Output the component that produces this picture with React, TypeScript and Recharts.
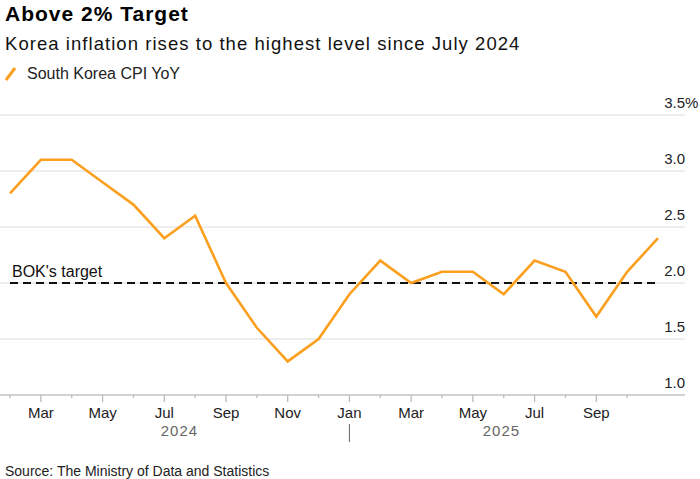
import { LineChart, Line, XAxis, YAxis, CartesianGrid, ReferenceLine } from 'recharts'

const FONT = '"Liberation Sans", Arial, Helvetica, sans-serif'
const ORANGE = '#fb9f1f'

// Feb 2024 .. Nov 2025
const months = ['Feb', 'Mar', 'Apr', 'May', 'Jun', 'Jul', 'Aug', 'Sep', 'Oct', 'Nov', 'Dec',
  'Jan', 'Feb', 'Mar', 'Apr', 'May', 'Jun', 'Jul', 'Aug', 'Sep', 'Oct', 'Nov']
const years = [2024, 2024, 2024, 2024, 2024, 2024, 2024, 2024, 2024, 2024, 2024,
  2025, 2025, 2025, 2025, 2025, 2025, 2025, 2025, 2025, 2025, 2025]
const cpiYoY = [2.8, 3.1, 3.1, 2.9, 2.7, 2.4, 2.6, 2.0, 1.6, 1.3, 1.5,
  1.9, 2.2, 2.0, 2.1, 2.1, 1.9, 2.2, 2.1, 1.7, 2.1, 2.4]
const labelledMonths = ['Mar', 'May', 'Jul', 'Sep', 'Nov', 'Jan']
const yTicks = [1.0, 1.5, 2.0, 2.5, 3.0, 3.5]
const bokTarget = 2.0

const data = months.map((m, i) => ({ key: `${m} ${years[i]}`, month: m, cpi: cpiYoY[i] }))

function MonthTick(props: any) {
  const { x, y, payload, index } = props
  if (index === months.length - 1) return <g />
  const month = String(payload.value).split(' ')[0]
  const year = String(payload.value).split(' ')[1]
  const major = labelledMonths.includes(month)
  const isYearStart = month === 'Jan' && year === '2025'
  return (
    <g>
      <line x1={x} x2={x} y1={y} y2={y + (major ? 7 : 3)} stroke="#bbb" strokeWidth={1.3} />
      {major && (
        <text x={x} y={y + 23} textAnchor="middle" fontSize={15} fill="#222" fontFamily={FONT}>
          {month}
        </text>
      )}
      {isYearStart && (
        <g>
          <line x1={x} x2={x} y1={y + 29} y2={y + 47} stroke="#666" strokeWidth={1} />
          <text x={x - 170} y={y + 41} textAnchor="middle" fontSize={15} fill="#666" letterSpacing={1} fontFamily={FONT}>2024</text>
          <text x={x + 152} y={y + 41} textAnchor="middle" fontSize={15} fill="#666" letterSpacing={1} fontFamily={FONT}>2025</text>
        </g>
      )}
    </g>
  )
}

function ValueTick(props: any) {
  const { x, y, payload } = props
  const v = Number(payload.value)
  return (
    <g>
      <text x={x} y={y - 7} textAnchor="end" fontSize={15} fill="#222" fontFamily={FONT}>
        {v.toFixed(1)}
      </text>
      {v === 3.5 && (
        <text x={x} y={y - 7} textAnchor="start" fontSize={15} fill="#222" fontFamily={FONT}>%</text>
      )}
    </g>
  )
}

function TargetLabel(props: any) {
  const { viewBox } = props
  if (!viewBox) return null
  return (
    <text x={viewBox.x + 2} y={viewBox.y - 6} fontSize={16} fill="#111" fontFamily={FONT}>
      BOK's target
    </text>
  )
}

export default function App() {
  return (
    <div style={{ position: 'absolute', left: 0, top: 0, width: 700, height: 479, background: '#fff', fontFamily: FONT }}>
      <div style={{ position: 'absolute', left: 0, top: 0 }}>
        <LineChart width={700} height={479} data={data} margin={{ top: 115, right: 0, left: 0, bottom: 34 }}>
          <CartesianGrid horizontal vertical={false} stroke="#dcdcdc" strokeWidth={1.2} />
          <XAxis
            dataKey="key"
            interval={0}
            height={50}
            padding={{ left: 10, right: 27 }}
            tickSize={0}
            tickMargin={0}
            tickLine={false}
            axisLine={{ stroke: '#c8c8c8', strokeWidth: 1.5 }}
            tick={<MonthTick />}
          />
          <YAxis
            orientation="right"
            width={15}
            domain={[1, 3.5]}
            ticks={yTicks}
            interval={0}
            tickSize={0}
            tickMargin={0}
            axisLine={false}
            tickLine={false}
            tick={<ValueTick />}
          />
          <ReferenceLine
            segment={[{ x: data[0].key, y: bokTarget }, { x: data[data.length - 1].key, y: bokTarget }]}
            stroke="#111"
            strokeWidth={2}
            strokeDasharray="8 5"
            label={<TargetLabel />}
          />
          <Line
            type="linear"
            dataKey="cpi"
            stroke={ORANGE}
            strokeWidth={2.6}
            dot={false}
            activeDot={false}
            isAnimationActive={false}
          />
        </LineChart>
      </div>
      <div style={{ position: 'absolute', left: 5, top: 3, fontSize: 21, lineHeight: '21px', fontWeight: 700, letterSpacing: 1, color: '#000', whiteSpace: 'nowrap' }}>
        Above 2% Target
      </div>
      <div style={{ position: 'absolute', left: 5, top: 34, fontSize: 18.5, lineHeight: '19px', letterSpacing: 1.05, color: '#111', whiteSpace: 'nowrap' }}>
        Korea inflation rises to the highest level since July 2024
      </div>
      <div style={{ position: 'absolute', left: 5, top: 66, height: 16, display: 'flex', alignItems: 'center', whiteSpace: 'nowrap' }}>
        <svg width={12} height={14} style={{ marginRight: 10 }}>
          <line x1={1} y1={13} x2={10} y2={1} stroke={ORANGE} strokeWidth={3} />
        </svg>
        <span style={{ fontSize: 16, lineHeight: '16px', color: '#222' }}>South Korea CPI YoY</span>
      </div>
      <div style={{ position: 'absolute', left: 5, top: 464, fontSize: 14, lineHeight: '14px', color: '#222', whiteSpace: 'nowrap' }}>
        Source: The Ministry of Data and Statistics
      </div>
    </div>
  )
}
